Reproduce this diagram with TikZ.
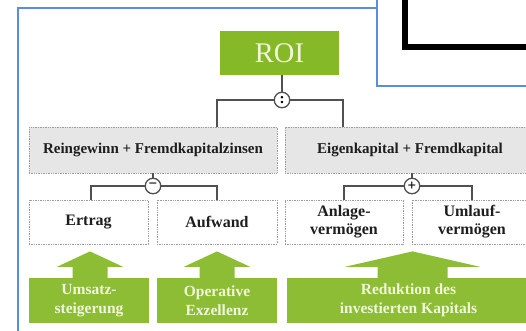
\documentclass[tikz,border=0pt]{standalone}
\usepackage{fontspec}
\setmainfont{Liberation Serif}
\usetikzlibrary{calc}

\definecolor{frameblue}{HTML}{5A8DE2}
\definecolor{roigreen}{HTML}{86B928}
\definecolor{levergreen}{HTML}{8CBD35}
\definecolor{cream}{HTML}{F1F6DA}
\definecolor{boxgray}{HTML}{E6E6E6}
\definecolor{edgegray}{HTML}{9C9C9C}
\definecolor{linegray}{HTML}{505050}
\definecolor{txt}{HTML}{1E1E1E}

% upward lever arrow: #1 lever box, #2 target box, #3 half shaft width,
% #4 half head width, #5 horizontal offset of the arrow axis
\newcommand\liftarrow[5]{%
  \fill[levergreen]
    ($(#1.north)+(#5-#3,1)$) -- ($(#1.north)+(#5-#3,-11)$)
    -- ($(#1.north)+(#5-#4,-11)$) -- ($(#1.north |- #2.south)+(#5,7)$)
    -- ($(#1.north)+(#5+#4,-11)$) -- ($(#1.north)+(#5+#3,-11)$)
    -- ($(#1.north)+(#5+#3,1)$) -- cycle;}

\begin{document}
\begin{tikzpicture}[x=1pt,y=-1pt,
  frame/.style={draw=frameblue, line width=1.3pt},
  termbox/.style={draw=edgegray, line width=0.8pt, dash pattern=on 1pt off 0.7pt,
    text=txt, align=center, inner sep=0pt},
  sumbox/.style={termbox, fill=boxgray, minimum height=46pt,
    font=\fontsize{15}{17}\selectfont\bfseries},
  partbox/.style={termbox, fill=white, minimum height=44pt,
    font=\fontsize{16}{18}\selectfont\bfseries},
  leverbox/.style={fill=levergreen, text=cream, minimum height=45pt, align=center,
    inner sep=0pt, font=\fontsize{15.5}{19}\selectfont\bfseries},
  opnode/.style={circle, draw=linegray, line width=1.3pt, fill=white,
    minimum size=15.5pt, inner sep=0pt, font=\fontsize{15}{15}\selectfont\bfseries},
  conn/.style={draw=linegray, line width=1.1pt}
]
\useasboundingbox (0,0) rectangle (526,330);
\fill[white] (0,0) rectangle (526,330);

% outer frame
\draw[frame] (18,340) -- (18,8) -- (390,8);
% inset window in the top right corner
\filldraw[white, frame] (377,-10) rectangle (540,86);
\draw[black, line width=6pt, line join=miter] (405,-10) -- (405,46.5) -- (540,46.5);

% top level
\node[fill=roigreen, text=cream, minimum width=119pt, minimum height=44pt,
  inner sep=0pt, font=\fontsize{28.5}{30}\selectfont] (roi) at (279.5,53) {ROI};
\node[sumbox, minimum width=248pt] (gL) at (153,150) {Reingewinn + Fremdkapitalzinsen};
\node[sumbox, minimum width=250pt] (gR) at (410,150) {Eigenkapital + Fremdkapital};

% components
\node[partbox, minimum width=119pt] (w1) at (88.5,222) {Ertrag};
\node[partbox, minimum width=120pt] (w2) at (217,222) {Aufwand};
\node[partbox, minimum width=118pt] (w3) at (344,222) {Anlage-\\vermögen};
\node[partbox, minimum width=120pt] (w4) at (472,222) {Umlauf-\\vermögen};

% levers
\node[leverbox, minimum width=120pt] (l1) at (89,300.5) {Umsatz-\\steigerung};
\node[leverbox, minimum width=120pt] (l2) at (217,300.5) {Operative\\Exzellenz};
\node[leverbox, minimum width=243pt] (l3) at (408.5,300.5) {Reduktion des\\investierten Kapitals};

\liftarrow{l1}{w1}{17.5}{33}{1}
\liftarrow{l2}{w2}{17.5}{33}{0}
\liftarrow{l3}{w3}{35}{67.5}{4}

% operators
\coordinate (divpos) at (282,100);
\draw[conn] (roi.south -| divpos) -- (divpos);
\draw[conn] (divpos) -| ([xshift=64pt]gL.north);
\draw[conn] (divpos) -| ([xshift=-67pt]gR.north);
\node[opnode] (div) at (divpos) {\raisebox{0.5pt}{:}};

\coordinate (minuspos) at (153,186);
\draw[conn] (gL.south) -- (minuspos);
\draw[conn] (minuspos) -| ([xshift=2.5pt]w1.north);
\draw[conn] (minuspos) -| (w2.north);
\node[opnode] (minus) at (minuspos) {\char"2212};

\coordinate (pluspos) at (412,186);
\draw[conn] (gR.south -| pluspos) -- (pluspos);
\draw[conn] (pluspos) -| (w3.north);
\draw[conn] (pluspos) -| (w4.north);
\node[opnode] (plus) at (pluspos) {+};
\end{tikzpicture}
\end{document}
